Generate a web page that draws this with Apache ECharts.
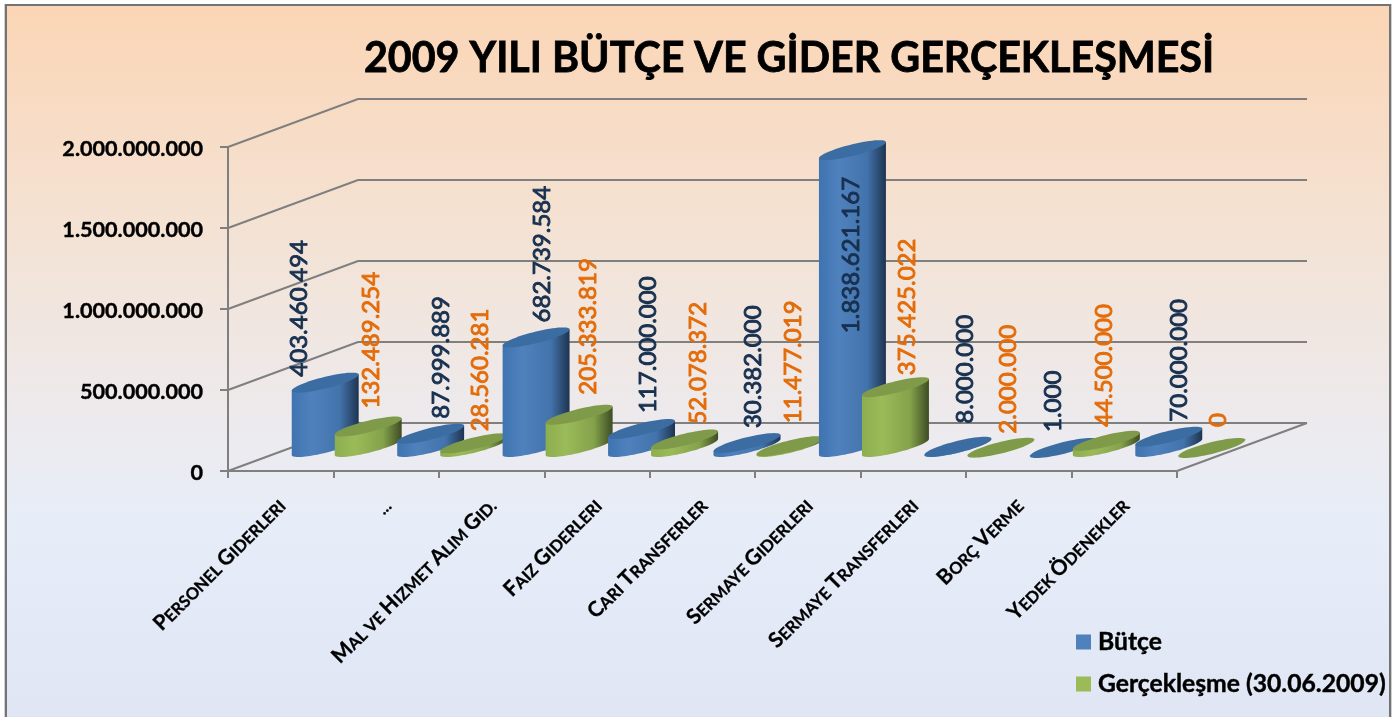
<!DOCTYPE html>
<html>
<head>
<meta charset="utf-8">
<script src="https://cdn.jsdelivr.net/npm/echarts@6/dist/echarts.min.js"></script>
<style>html,body{margin:0;padding:0;background:#fff}#c{width:1399px;height:717px}</style>
</head>
<body>
<div id="c"></div>
<script>
const titleText = '2009 YILI BÜTÇE VE GİDER GERÇEKLEŞMESİ';
const categories = ['Personel Giderleri', '...', 'Mal ve Hizmet Alım Gid.', 'Faiz Giderleri', 'Cari Transferler', 'Sermaye Giderleri', 'Sermaye Transferleri', 'Borç Verme', 'Yedek Ödenekler'];
const budgetName = 'Bütçe';
const actualName = 'Gerçekleşme (30.06.2009)';
const budget = [403460494, 87999889, 682739584, 117000000, 30382000, 1838621167, 8000000, 1000, 70000000];
const actual = [132489254, 28560281, 205333819, 52078372, 11477019, 375425022, 2000000, 44500000, 0];
const yTicks = [0, 500000000, 1000000000, 1500000000, 2000000000];

// hand-placed label nudges of the original (dx, dy from the cylinder's top centre)
const budgetNudge = [[-26,-5],[11,-14],[6,-14],[7,-15],[6,-14],[-1,184],[7,-22],[-10,-15],[10,-14]];
const actualNudge = [[3,-17],[7,-11],[9,-19],[14,-14],[3,-22],[12,-11],[7,-13],[-2,-13],[6,-20]];

const DEPTH = [130, -48];
const GRID_COLOR = '#7f7f7f';
const FONT = 'Lato';

const fmt = v => String(v).replace(/\B(?=(\d{3})+(?!\d))/g, '.');

function smallCaps(name) {
  return name.split(' ').map(w => {
    if (w === 've') return '{s|VE}';
    if (/^\.+$/.test(w)) return '{s|' + w + '}';
    return '{b|' + w[0].toUpperCase() + '}{s|' + w.slice(1).toUpperCase() + '}';
  }).join('{s| }');
}

function ellipse(cx, cy, tFrom, tTo, n) {
  const wu = 19.8, vx = 27, vy = -10, pts = [];
  for (let k = 0; k <= n; k++) {
    const t = tFrom + (tTo - tFrom) * k / n;
    pts.push([cx + Math.cos(t) * wu + Math.sin(t) * vx, cy + Math.sin(t) * vy]);
  }
  return pts;
}

function cylinderSeries(name, values, nudges, idx, bodyStops, capColor, labelColor, swatch) {
  return {
    type: 'custom', name, coordinateSystem: 'cartesian2d',
    encode: { x: 0, y: 1 },
    itemStyle: { color: swatch },
    silent: true,
    data: values.map((v, i) => [i, v]),
    renderItem(params, api) {
      const i = params.dataIndex, v = values[i];
      const band = api.size([1, 0])[0];
      const top = api.coord([i, v]), bottom = api.coord([i, 0]);
      const shift = band * 0.204 * (idx === 0 ? -1 : 1);
      const cx = bottom[0] + DEPTH[0] / 2 + shift + 1;
      const yB = bottom[1] + DEPTH[1] / 2, yT = top[1] + DEPTH[1] / 2 + 1;
      const tExt = Math.atan2(27, 19.8);          // parameter of the horizontal extreme
      const lower = ellipse(cx, yB, Math.PI + tExt, 2 * Math.PI + tExt, 40);
      const first = lower[0], last = lower[lower.length - 1];
      const dy = yB - yT;
      const body = lower.concat([[last[0], last[1] - dy], [first[0], first[1] - dy]]);
      const cap = ellipse(cx, yT, 0, 2 * Math.PI, 60);
      const z = 10 + 2 * i + idx;
      return {
        type: 'group',
        children: [
          { type: 'polygon', z2: z, shape: { points: body }, style: { fill: { type: 'linear', x: 0, y: 0, x2: 1, y2: 0, colorStops: bodyStops } } },
          { type: 'polygon', z2: z, shape: { points: cap }, style: { fill: capColor } },
          { type: 'text', z2: 100, x: cx + nudges[i][0], y: yT + nudges[i][1] - 1, rotation: Math.PI / 2,
            style: { text: fmt(v), fill: labelColor, stroke: labelColor, lineWidth: 0.9, fontFamily: FONT, fontSize: 24, align: 'left', verticalAlign: 'middle' } }
        ]
      };
    }
  };
}

const wallSeries = {
  type: 'custom', coordinateSystem: 'cartesian2d', encode: { x: 0, y: 1 }, silent: true,
  data: yTicks.map(t => [0, t]),
  renderItem(params, api) {
    const t = yTicks[params.dataIndex];
    const band = api.size([1, 0])[0];
    const p = api.coord([0, t]);
    const x0 = p[0] - band / 2, x1 = x0 + band * categories.length;
    const line = { stroke: GRID_COLOR, lineWidth: 2, fill: null };
    const kids = [{ type: 'polyline', z2: 1, shape: { points: [[x0, p[1]], [x0 + DEPTH[0], p[1] + DEPTH[1]], [x1 + DEPTH[0], p[1] + DEPTH[1]]] }, style: line }];
    if (t === 0) kids.push({ type: 'line', z2: 1, shape: { x1, y1: p[1], x2: x1 + DEPTH[0], y2: p[1] + DEPTH[1] }, style: line });
    return { type: 'group', children: kids };
  }
};

const chart = echarts.init(document.getElementById('c'), null, { renderer: 'canvas', width: 1399, height: 717 });
chart.setOption({
  animation: false,
  backgroundColor: '#ffffff',
  title: { text: titleText, left: 784, textAlign: 'center', top: 33,
    textStyle: { fontFamily: FONT, fontSize: 41.2, fontWeight: 'bold', color: '#000', textBorderColor: '#000', textBorderWidth: 0.8 } },
  graphic: [
    { type: 'rect', z: -20, silent: true, shape: { x: 4, y: 4, width: 1388, height: 730 }, style: { fill: '#d0d0d0' } },
    { type: 'rect', z: -10, silent: true, shape: { x: 6, y: 5, width: 1384, height: 730 },
      style: { stroke: '#737373', lineWidth: 2, fill: { type: 'linear', x: 0, y: 0, x2: 0, y2: 1, colorStops: [
        { offset: 0, color: '#fbd5b5' }, { offset: 0.30, color: '#f4e2d3' }, { offset: 0.60, color: '#ecebf0' },
        { offset: 0.72, color: '#e6edf9' }, { offset: 1, color: '#dfe5f3' } ] } } }
  ],
  legend: { orient: 'vertical', left: 1076, top: 629, padding: 0, itemWidth: 15, itemHeight: 15, itemGap: 16,
    icon: 'rect', data: [budgetName, actualName], selectedMode: false,
    textStyle: { fontFamily: FONT, fontSize: 24.7, lineHeight: 26, fontWeight: 'bold', color: '#000', textBorderColor: '#000', textBorderWidth: 0.4, padding: [0, 0, 0, 2] } },
  grid: { left: 228, top: 147, width: 949, height: 324, containLabel: false },
  xAxis: { type: 'category', data: categories, boundaryGap: true,
    axisLine: { lineStyle: { color: GRID_COLOR, width: 2 } },
    axisTick: { show: true, length: 7, alignWithLabel: false, lineStyle: { color: GRID_COLOR, width: 2 } },
    axisLabel: { interval: 0, rotate: 45, margin: 30, formatter: smallCaps,
      rich: { b: { fontFamily: FONT, fontSize: 21, fontWeight: 'bold', color: '#000', textBorderColor: '#000', textBorderWidth: 0.3, verticalAlign: 'bottom', lineHeight: 24 },
              s: { fontFamily: FONT, fontSize: 16.5, fontWeight: 'bold', color: '#000', textBorderColor: '#000', textBorderWidth: 0.3, verticalAlign: 'bottom', lineHeight: 24 } } } },
  yAxis: { type: 'value', min: 0, max: 2000000000, interval: 500000000, splitLine: { show: false },
    axisLine: { show: true, lineStyle: { color: GRID_COLOR, width: 2 } },
    axisTick: { show: true, length: 8, lineStyle: { color: GRID_COLOR, width: 2 } },
    axisLabel: { margin: 25, formatter: v => fmt(v), fontFamily: FONT, fontSize: 21.6, fontWeight: 'bold', color: '#000', textBorderColor: '#000', textBorderWidth: 0.4, verticalAlign: 'top', lineHeight: 4 } },
  series: [
    wallSeries,
    cylinderSeries(budgetName, budget, budgetNudge, 0,
      [{ offset: 0, color: '#3f74b0' }, { offset: 0.3, color: '#4f81bd' }, { offset: 0.72, color: '#4373ab' }, { offset: 1, color: '#1e3450' }],
      '#3b6da3', '#17304f', '#4f81bd'),
    cylinderSeries(actualName, actual, actualNudge, 1,
      [{ offset: 0, color: '#8dae50' }, { offset: 0.3, color: '#9bbb59' }, { offset: 0.72, color: '#84a24b' }, { offset: 1, color: '#3e4c24' }],
      '#7f9b49', '#e36c09', '#9bbb59')
  ]
});
</script>
</body>
</html>
